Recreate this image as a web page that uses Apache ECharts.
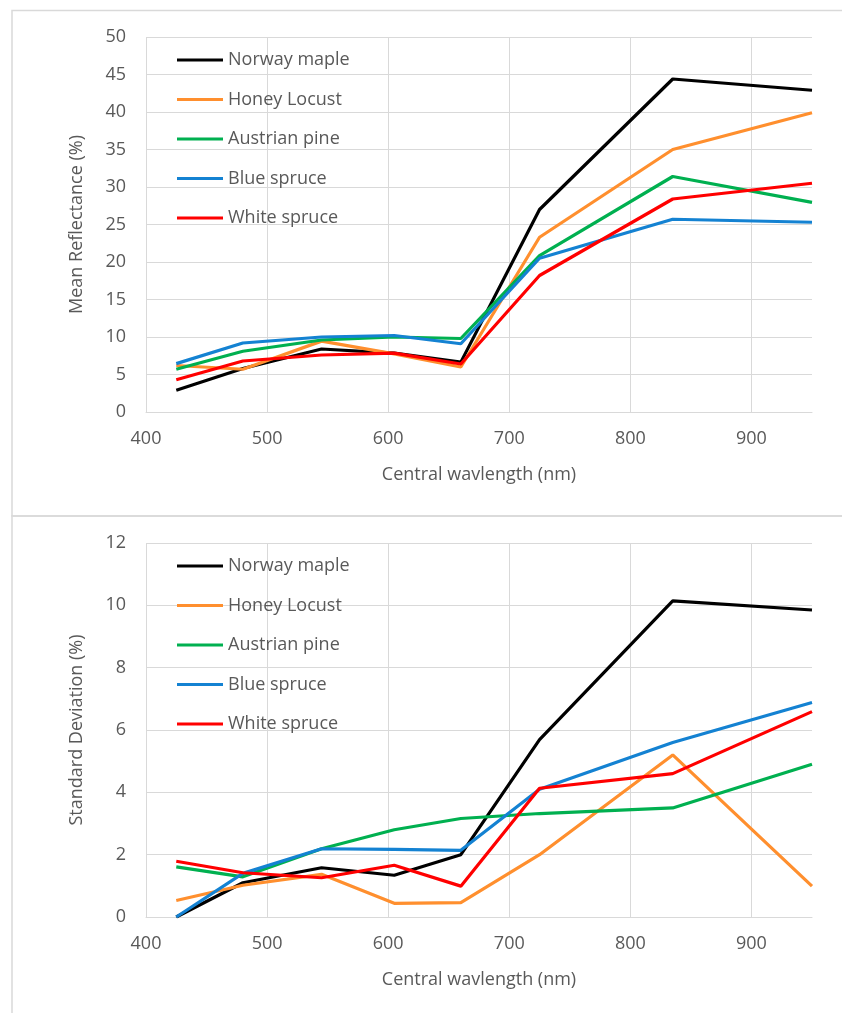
<!DOCTYPE html>
<html>
<head>
<meta charset="utf-8">
<script src="https://cdn.jsdelivr.net/npm/echarts@6/dist/echarts.min.js"></script>
<style>
html,body{margin:0;padding:0;background:#fff;}
#chart{width:842px;height:1013px;}
</style>
</head>
<body>
<div id="chart"></div>
<script>
// Central wavelengths (nm)
const wavelengths = [425, 480, 545, 605, 660, 725, 835, 950];
const xTickLabels = ['400', '500', '600', '700', '800', '900'];
const seriesNames = ['Norway maple', 'Honey Locust', 'Austrian pine', 'Blue spruce', 'White spruce'];
const seriesColors = ['#000000', '#ff8f2e', '#00b050', '#1482d2', '#ff0000'];

// Mean reflectance (%)
const meanNorwayMaple  = [2.9, 5.8, 8.4, 7.85, 6.65, 27.0, 44.4, 42.9];
const meanHoneyLocust  = [6.2, 5.7, 9.45, 7.75, 6.0, 23.3, 35.0, 39.9];
const meanAustrianPine = [5.7, 8.1, 9.6, 10.0, 9.8, 20.85, 31.4, 27.95];
const meanBlueSpruce   = [6.45, 9.2, 10.0, 10.2, 9.1, 20.5, 25.7, 25.3];
const meanWhiteSpruce  = [4.3, 6.8, 7.6, 7.85, 6.4, 18.2, 28.4, 30.5];

// Standard deviation (%)
const sdNorwayMaple  = [0.0, 1.1, 1.58, 1.34, 2.0, 5.69, 10.14, 9.85];
const sdHoneyLocust  = [0.53, 1.02, 1.37, 0.44, 0.46, 2.0, 5.2, 0.99];
const sdAustrianPine = [1.61, 1.29, 2.19, 2.8, 3.16, 3.32, 3.5, 4.9];
const sdBlueSpruce   = [0.0, 1.4, 2.19, 2.17, 2.14, 4.1, 5.6, 6.88];
const sdWhiteSpruce  = [1.79, 1.42, 1.26, 1.66, 0.99, 4.13, 4.6, 6.59];

const meanData = [meanNorwayMaple, meanHoneyLocust, meanAustrianPine, meanBlueSpruce, meanWhiteSpruce];
const sdData = [sdNorwayMaple, sdHoneyLocust, sdAustrianPine, sdBlueSpruce, sdWhiteSpruce];

const FONT = 'Open Sans';
const TXT = '#595959';
const GRID = '#d9d9d9';

function pairs(arr) { return wavelengths.map((w, i) => [w, arr[i]]); }

function xAxisCfg(gridIndex) {
  return {
    type: 'value', gridIndex, min: 400, max: 950, interval: 100,
    name: 'Central wavlength (nm)', nameLocation: 'middle', nameGap: 54,
    nameTextStyle: { fontFamily: FONT, fontSize: 18, color: TXT },
    axisLine: { show: true, lineStyle: { color: GRID, width: 1 } },
    axisTick: { show: false },
    axisLabel: { fontFamily: FONT, fontSize: 18, color: TXT, margin: 18, showMaxLabel: false,
      formatter: v => (xTickLabels.indexOf(String(v)) >= 0 ? String(v) : '') },
    splitLine: { show: true, lineStyle: { color: [GRID, GRID, GRID, GRID, GRID, GRID, 'rgba(0,0,0,0)'], width: 1 } }
  };
}
function yAxisCfg(gridIndex, max, interval, name) {
  return {
    type: 'value', gridIndex, min: 0, max, interval,
    name, nameLocation: 'middle', nameGap: 60,
    nameTextStyle: { fontFamily: FONT, fontSize: 18, color: TXT },
    axisLine: { show: false }, axisTick: { show: false },
    axisLabel: { fontFamily: FONT, fontSize: 18, color: TXT, margin: 20 },
    splitLine: { show: true, lineStyle: { color: GRID, width: 1 } }
  };
}
function legendCfg(top) {
  return {
    orient: 'vertical', left: 172, top, itemWidth: 46, itemHeight: 3, itemGap: 19.5,
    icon: 'rect',
    textStyle: { fontFamily: FONT, fontSize: 18, color: TXT, lineHeight: 20 },
    data: seriesNames.map(n => ({ name: n }))
  };
}

const series = [];
seriesNames.forEach((n, i) => {
  series.push({ name: n, type: 'line', xAxisIndex: 0, yAxisIndex: 0, data: pairs(meanData[i]),
    symbol: 'none', color: seriesColors[i], lineStyle: { width: 3.2, color: seriesColors[i] }, animation: false });
});
seriesNames.forEach((n, i) => {
  series.push({ name: n, type: 'line', xAxisIndex: 1, yAxisIndex: 1, data: pairs(sdData[i]),
    symbol: 'none', color: seriesColors[i], lineStyle: { width: 3.2, color: seriesColors[i] }, animation: false });
});

const chart = echarts.init(document.getElementById('chart'), null, { renderer: 'canvas' });
chart.setOption({
  animation: false,
  backgroundColor: '#fff',
  graphic: [
    { type: 'rect', shape: { x: 12, y: 10.5, width: 840, height: 505.5 }, style: { fill: 'none', stroke: GRID, lineWidth: 1.5 }, silent: true, z: -1 },
    { type: 'rect', shape: { x: 12, y: 516, width: 840, height: 510 }, style: { fill: 'none', stroke: GRID, lineWidth: 1.5 }, silent: true, z: -1 }
  ],
  grid: [
    { left: 146, right: 30, top: 37, height: 375 },
    { left: 146, right: 30, top: 543, height: 374 }
  ],
  xAxis: [xAxisCfg(0), xAxisCfg(1)],
  yAxis: [yAxisCfg(0, 50, 5, 'Mean Reflectance (%)'), yAxisCfg(1, 12, 2, 'Standard Deviation (%)')],
  legend: [legendCfg(45), legendCfg(551)],
  series
});
</script>
</body>
</html>
